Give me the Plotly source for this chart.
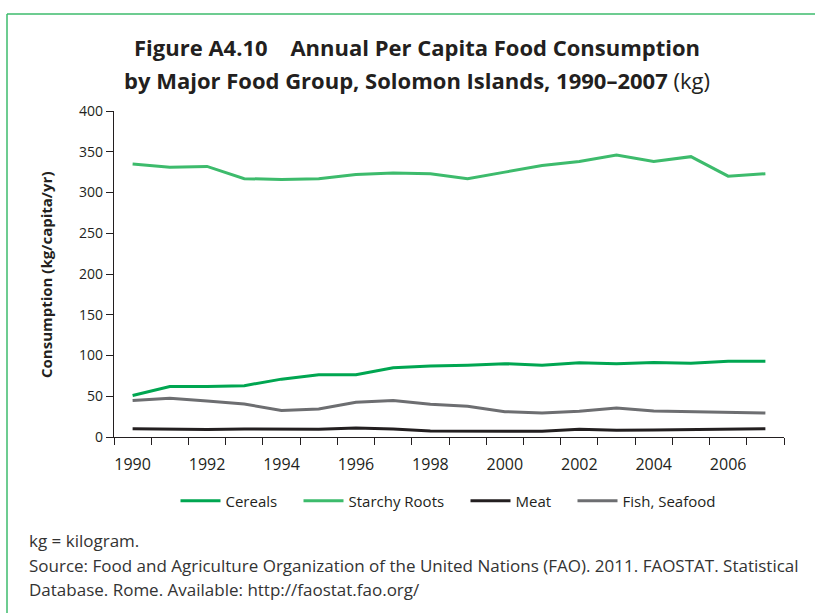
import plotly.graph_objects as go

years = list(range(1990, 2008))
cereals = [51, 62, 62, 63, 71, 76.5, 76.5, 85, 87, 88, 90, 88, 91, 90, 91.5, 90.5, 93, 93]
starchy_roots = [335, 331, 332, 317, 316, 317, 322, 324, 323, 317, 325, 333, 338, 346, 338, 344, 320, 323]
meat = [10, 9.4, 9.2, 9.8, 9.6, 9.6, 11, 9.8, 7.5, 7.2, 7, 7, 9.4, 8.2, 8.6, 9.4, 10, 10.2]
fish = [44.7, 47.5, 44.3, 40.6, 32.4, 34.4, 42.6, 44.7, 40.2, 37.7, 31.1, 29.5, 31.6, 35.7, 32, 31.1, 30.3, 29.5]
series_names = ["Cereals", "Starchy Roots", "Meat", "Fish, Seafood"]
colors = ["#00A651", "#3DBB6C", "#231F20", "#6D6E71"]
legend_widths = [68, 112, 52, None]
tick_years = years[::2]
y_ticks = list(range(0, 401, 50))

title_lines = ["<b>Figure A4.10    Annual Per Capita Food Consumption</b>",
               "<b>by Major Food Group, Solomon Islands, 1990–2007</b> (kg)"]
y_title = "<b>Consumption (kg/capita/yr)</b>"
notes = ["kg = kilogram.",
         "Source: Food and Agriculture Organization of the United Nations (FAO). 2011. FAOSTAT. Statistical",
         "Database. Rome. Available: http://faostat.fao.org/"]

FONT = "Open Sans"
INK = "#231F20"
fig = go.Figure()
for name, vals, c, lw in zip(series_names, [cereals, starchy_roots, meat, fish], colors, legend_widths):
    tr = go.Scatter(x=years, y=vals, mode="lines", name=name, line=dict(color=c, width=3))
    if lw:
        tr.legendwidth = lw
    fig.add_trace(tr)

L, R, T, B = 114, 784, 111, 437
W, H = 815, 613
pw, ph = R - L, B - T
def px(x): return (x - L) / pw
def py(y): return (B - y) / ph

fig.update_layout(
    width=W, height=H,
    margin=dict(l=L, r=W - R, t=T, b=H - B),
    paper_bgcolor="white", plot_bgcolor="white",
    font=dict(family=FONT, color=INK),
    xaxis=dict(range=[years[0] - 0.5, years[-1] + 0.5], tickvals=tick_years,
               ticks="outside", ticklen=13, tickcolor="rgba(0,0,0,0)",
               showline=True, linecolor=INK, linewidth=1.2,
               showgrid=False, zeroline=False, tickfont=dict(size=16),
               minor=dict(tickvals=[y - 0.5 for y in years] + [years[-1] + 0.5],
                          ticks="outside", ticklen=7, tickcolor=INK, tickwidth=1.2)),
    yaxis=dict(range=[0, 400], tickvals=y_ticks, ticks="outside", ticklen=7,
               tickcolor=INK, tickwidth=1.2, showline=True, linecolor=INK, linewidth=1.2,
               showgrid=False, zeroline=False, tickfont=dict(size=14)),
    legend=dict(orientation="h", x=(448 - L) / pw, xanchor="center", y=py(501), yanchor="middle",
                font=dict(size=15), itemwidth=40, traceorder="normal"),
    showlegend=True,
)

for line, yc in zip(title_lines, [47, 80]):
    fig.add_annotation(text=line, xref="paper", yref="paper", x=px(417), y=py(yc),
                       xanchor="center", yanchor="middle", showarrow=False,
                       font=dict(size=22, color=INK))

fig.add_annotation(text=y_title, xref="paper", yref="paper", x=px(46), y=py(275),
                   xanchor="center", yanchor="middle", textangle=-90, showarrow=False,
                   font=dict(size=15, color=INK))

for line, yc in zip(notes, [540, 565, 589]):
    fig.add_annotation(text=line, xref="paper", yref="paper", x=px(27), y=py(yc),
                       xanchor="left", yanchor="middle", showarrow=False,
                       font=dict(size=17, color="#333333"))

green = "#3DBB6C"
fig.add_shape(type="line", xref="paper", yref="paper", x0=px(7), x1=px(W + 5), y0=py(14), y1=py(14),
              line=dict(color=green, width=1.5))
fig.add_shape(type="line", xref="paper", yref="paper", x0=px(7), x1=px(7), y0=py(14), y1=py(H + 5),
              line=dict(color=green, width=1.5))

fig.write_html("out.html", config={"displayModeBar": False},
               post_script="document.body.style.margin='0';document.body.style.overflow='hidden';")
